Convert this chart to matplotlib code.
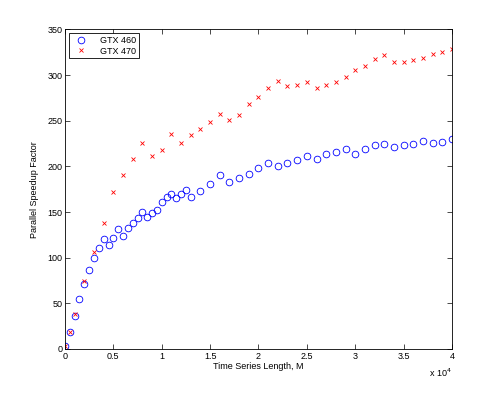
import numpy as np
import matplotlib.pyplot as plt

plt.rcParams['font.family'] = ['Liberation Sans', 'DejaVu Sans']

# GTX 460: steps of 500 up to 13000, then steps of 1000
m_460 = list(range(0, 13001, 500)) + list(range(14000, 40001, 1000))
speedup_460 = [3.6, 19, 36.5, 54.8, 70.8, 86.2, 100, 111, 120.8, 113.9,
               121.6, 131, 124.1, 132.2, 138, 143, 150, 144.6, 149, 152.6,
               161, 166.8, 170, 165.7, 169.4, 174, 166,
               173.4, 180.7, 191, 183.3, 187.3, 191.7, 198.6, 203.7, 200.8,
               203.7, 207, 211, 208, 213.6, 215.8, 219.4, 214, 218.7, 223,
               224.9, 221, 223.8, 224.6, 228.2, 225.7, 227, 230]

# GTX 470
m_470 = [0, 500, 1000] + list(range(2000, 40001, 1000))
speedup_470 = [3.6, 19, 38.7, 74.8, 106.6, 138, 172.3, 191, 208, 226, 211.4,
               218, 235.5, 226, 234, 241.4, 248.3, 257.8, 251.2, 256.7, 268,
               276, 286.3, 293.6, 288.5, 289.6, 292.5, 285.9, 288.8, 292.5,
               297.6, 305.3, 310.4, 318, 322.4, 314.7, 314.7, 317, 319, 323.5,
               325, 329]

x_ticks = [0, 5000, 10000, 15000, 20000, 25000, 30000, 35000, 40000]
x_ticklabels = ['0', '0.5', '1', '1.5', '2', '2.5', '3', '3.5', '4']
y_ticks = [0, 50, 100, 150, 200, 250, 300, 350]

fig = plt.figure(figsize=(4.98, 3.93), dpi=100)
ax = fig.add_axes([0.1305, 0.112, 0.777, 0.813])

ax.plot(m_460, speedup_460, 'o', color='blue', mfc='none', ms=4.8, mew=0.6,
        label='GTX 460')
ax.plot(m_470, speedup_470, 'x', color='red', ms=3.5, mew=0.6,
        label='GTX 470')

ax.set_xlim(0, 40000)
ax.set_ylim(0, 350)
ax.set_xticks(x_ticks)
ax.set_xticklabels(x_ticklabels)
ax.set_yticks(y_ticks)
ax.tick_params(direction='in', top=True, right=True, length=3.5, width=0.5,
               labelsize=6.5, pad=2)
for s in ax.spines.values():
    s.set_linewidth(0.6)

ax.set_xlabel('Time Series Length, M', fontsize=6.5, labelpad=1)
ax.set_ylabel('Parallel Speedup Factor', fontsize=6.5, labelpad=6)
ax.text(1.0, -0.055, r'x 10$^{4}$', transform=ax.transAxes, ha='right',
        va='top', fontsize=6.5)

leg = ax.legend(loc='upper left', fontsize=6.5, fancybox=False,
                edgecolor='black', framealpha=1, borderaxespad=0.4,
                handletextpad=1.0, borderpad=0.3, labelspacing=0.2,
                handlelength=2.2)
leg.get_frame().set_linewidth(0.6)

fig.savefig('out.png', dpi=100)
